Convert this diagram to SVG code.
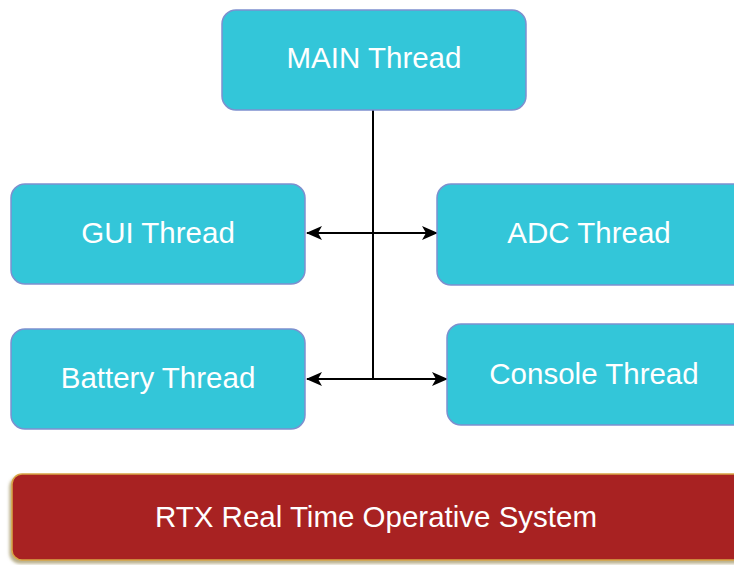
<svg xmlns="http://www.w3.org/2000/svg" width="734" height="565" viewBox="0 0 734 565">
<defs>
<style>
.node{fill:#33C6D9;stroke:#7D90CF;stroke-width:1.5}
.lbl{font-family:"Liberation Sans",Arial,sans-serif;font-size:29.5px;fill:#FFFFFF;text-anchor:middle}
.conn{stroke:#000;stroke-width:2;fill:none}
</style>
<marker id="arr" viewBox="0 0 16 14" refX="15" refY="7" markerWidth="16" markerHeight="14" markerUnits="userSpaceOnUse" orient="auto-start-reverse">
<path d="M0,0 L16,7 L0,14 L4,7 Z" fill="#000"/>
</marker>
<filter id="sh" x="-5%" y="-20%" width="110%" height="140%">
<feDropShadow dx="-2" dy="3" stdDeviation="1.5" flood-color="#8a7a3a" flood-opacity="0.6"/>
</filter>
</defs>
<rect width="734" height="565" fill="#FFFFFF"/>
<g id="connectors">
<line class="conn" x1="373" y1="110" x2="373" y2="379"/>
<line class="conn" x1="307" y1="233" x2="437" y2="233" marker-start="url(#arr)" marker-end="url(#arr)"/>
<line class="conn" x1="307" y1="379" x2="447" y2="379" marker-start="url(#arr)" marker-end="url(#arr)"/>
</g>
<g id="main">
<rect class="node" x="222" y="10" width="304" height="100" rx="14"/>
<text class="lbl" x="374" y="68">MAIN Thread</text>
</g>
<g id="gui">
<rect class="node" x="11" y="184" width="294" height="100" rx="14"/>
<text class="lbl" x="158" y="243">GUI Thread</text>
</g>
<g id="adc">
<rect class="node" x="437" y="184" width="310" height="101" rx="14"/>
<text class="lbl" x="589" y="243">ADC Thread</text>
</g>
<g id="battery">
<rect class="node" x="11" y="329" width="294" height="100" rx="14"/>
<text class="lbl" x="158" y="388">Battery Thread</text>
</g>
<g id="console">
<rect class="node" x="447" y="324" width="300" height="101" rx="14"/>
<text class="lbl" x="594" y="384">Console Thread</text>
</g>
<g id="rtx">
<rect x="12" y="474" width="740" height="86" rx="10" fill="#A82024" stroke="#D8A545" stroke-width="1.5" filter="url(#sh)"/>
<text class="lbl" x="376" y="527">RTX Real Time Operative System</text>
</g>
</svg>
